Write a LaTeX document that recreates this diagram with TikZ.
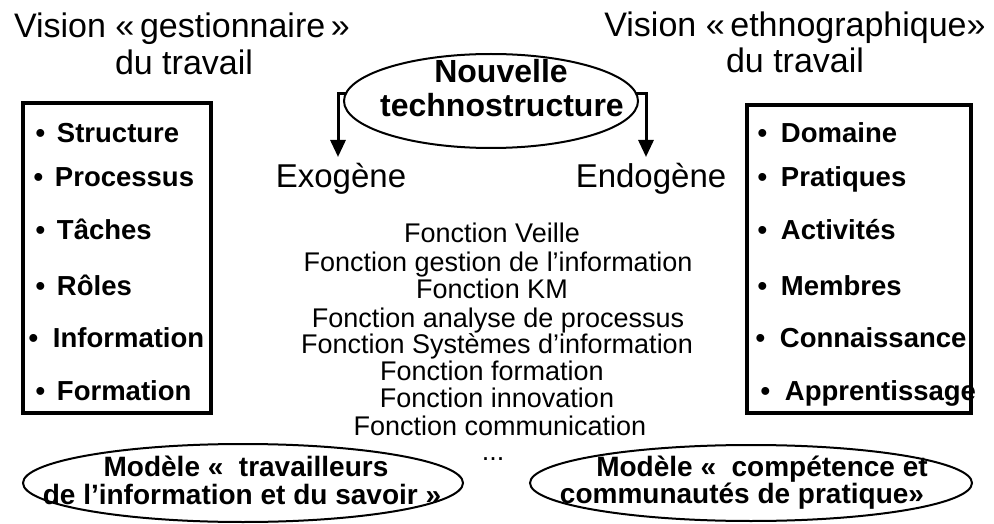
\documentclass[tikz,border=0pt]{standalone}
\usepackage{fontspec}
\setmainfont{Liberation Sans}
\usetikzlibrary{arrows.meta,shapes.geometric}
\begin{document}
\begin{tikzpicture}[x=1pt,y=-1pt,
  every node/.style={inner sep=0pt, outer sep=0pt},
  title/.style={font=\fontsize{34}{40}\selectfont, anchor=base},
  item/.style={font=\bfseries\fontsize{27.5}{30}\selectfont, anchor=base west},
  func/.style={font=\fontsize{27}{30}\selectfont, anchor=base},
  side/.style={font=\fontsize{33}{38}\selectfont, anchor=base},
  tstext/.style={font=\bfseries\fontsize{32}{34}\selectfont, anchor=base},
  model/.style={font=\bfseries\fontsize{28}{32}\selectfont, anchor=base},
  oval/.style={draw, ellipse, line width=2pt, inner sep=0pt},
  box/.style={draw, line width=3.5pt},
  arr/.style={line width=3pt, -{Triangle[length=17pt,width=15pt]}},
]
\useasboundingbox (0,0) rectangle (994,524);

% titles
\node[title] (tl1) at (182,38) {Vision «\,gestionnaire\,»};
\node[title] (tl2) at (184,75) {du travail};
\node[title] (tr1) at (795,37) {Vision «\,ethnographique»};
\node[title] (tr2) at (795,73) {du travail};

% boxes
\node[box, minimum width=188pt, minimum height=310pt] (lbox) at (117,258) {};
\node[box, minimum width=224pt, minimum height=308pt] (rbox) at (859,259) {};

% left items
\node[item] (l1) at (35.5,143) {\makebox[21.5pt][l]{•}Structure};
\node[item] (l2) at (33.5,187) {\makebox[21.5pt][l]{•}Processus};
\node[item] (l3) at (35.5,240) {\makebox[21.5pt][l]{•}Tâches};
\node[item] (l4) at (35.5,295) {\makebox[21.5pt][l]{•}Rôles};
\node[item] (l5) at (28.5,347) {\makebox[24.5pt][l]{•}Information};
\node[item] (l6) at (35.5,400) {\makebox[21.5pt][l]{•}Formation};

% right items
\node[item] (r1) at (757.5,143) {\makebox[23.5pt][l]{•}Domaine};
\node[item] (r2) at (757.5,187) {\makebox[23.5pt][l]{•}Pratiques};
\node[item] (r3) at (757.5,240) {\makebox[23.5pt][l]{•}Activités};
\node[item] (r4) at (757.5,295) {\makebox[23.5pt][l]{•}Membres};
\node[item] (r5) at (755.5,347) {\makebox[24.5pt][l]{•}Connaissance};
\node[item] (r6) at (760.5,400) {\makebox[24.5pt][l]{•}Apprentissage};

% top ellipse
\node[oval, minimum width=294pt, minimum height=94pt] (ts) at (491,101) {};
\node[tstext] (tsa) at (501,83) {Nouvelle};
\node[tstext] (tsb) at (502,117) {technostructure};

% exo / endo
\node[side] (exo) at (341,188) {Exogène};
\node[side] (endo) at (651,188) {Endogène};
\coordinate (exoTip) at (338,157);
\coordinate (endoTip) at (646,157);
\draw[arr] (ts.177) -| (exoTip);
\draw[arr] (ts.3) -| (endoTip);

% functions
\node[func] (f1) at (492,243) {Fonction Veille};
\node[func] (f2) at (498,271.5) {Fonction gestion de l’information};
\node[func] (f3) at (492,298) {Fonction KM};
\node[func] (f4) at (498,327) {Fonction analyse de processus};
\node[func] (f5) at (497,353) {Fonction Systèmes d’information};
\node[func] (f6) at (492,380) {Fonction formation};
\node[func] (f7) at (497,407) {Fonction innovation};
\node[func] (f8) at (500,435) {Fonction communication};
\node[func] (dots) at (493,460) {...};

% bottom ellipses
\node[oval, minimum width=440pt, minimum height=78pt] (ml) at (243,483) {};
\node[model] (ml1) at (246,476) {Modèle «\ \ travailleurs};
\node[model] (ml2) at (242,504) {de l’information et du savoir »};
\node[oval, minimum width=442pt, minimum height=76pt] (mr) at (751,483) {};
\node[model] (mr1) at (762,476) {Modèle «\ \ compétence et};
\node[model] (mr2) at (742,503) {communautés de pratique»};
\end{tikzpicture}
\end{document}
